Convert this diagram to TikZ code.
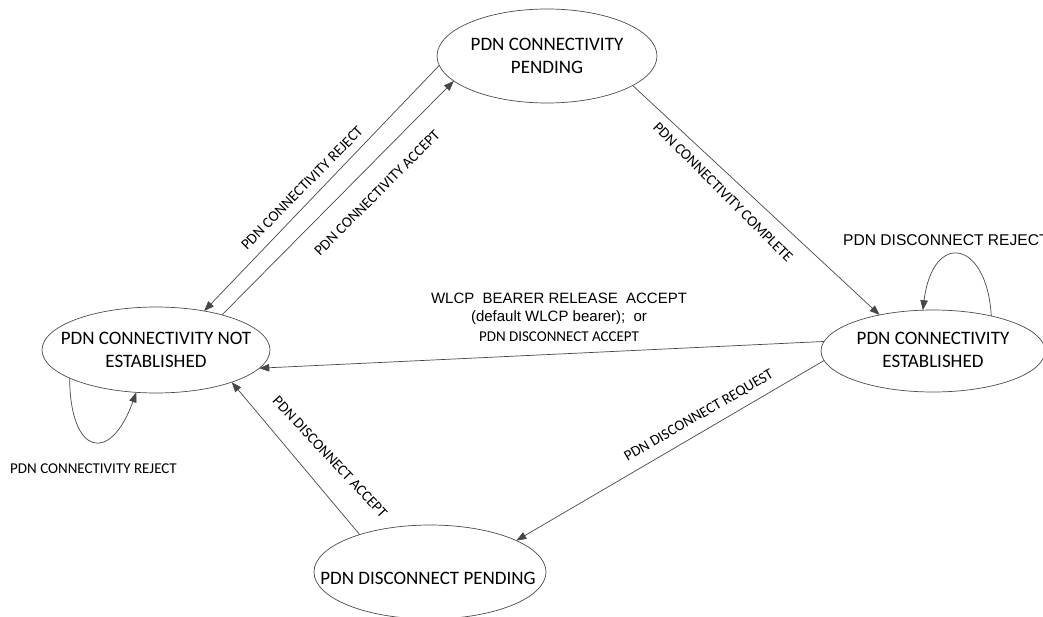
\documentclass[tikz,border=0pt]{standalone}
\usepackage{fontspec}
\setmainfont{Carlito}
\newfontfamily\arialf{Liberation Sans}
\usetikzlibrary{arrows.meta,shapes.geometric}
\begin{document}
\begin{tikzpicture}[x=1pt,y=-1pt,
  state/.style={draw=black!70,line width=0.7pt,ellipse,inner sep=0pt,outer sep=0pt},
  stext/.style={align=center,inner sep=0pt,font=\fontsize{19}{23}\selectfont},
  elab/.style={inner sep=0pt,font=\fontsize{15}{18}\selectfont},
  alab/.style={inner sep=0pt,font=\arialf\fontsize{15}{19}\selectfont},
  conn/.style={draw=black!72,line width=0.7pt,-{Triangle[length=10pt,width=7.5pt]}},
  plain/.style={draw=black!72,line width=0.7pt}]
\fill[white] (0,0) rectangle (1043,617);
\useasboundingbox (0,0) rectangle (1043,617);

% states
\node[state,minimum width=220pt,minimum height=94pt] (T) at (547,56) {};
\node[stext] (Tt) at (547,56) {PDN CONNECTIVITY\\PENDING};
\node[state,minimum width=228pt,minimum height=86pt] (L) at (156,350) {};
\node[stext] (Lt) at (156,350) {PDN CONNECTIVITY NOT\\ESTABLISHED};
\node[state,minimum width=224pt,minimum height=82pt] (R) at (933,351) {};
\node[stext] (Rt) at (933,350) {PDN CONNECTIVITY\\ESTABLISHED};
\node[state,minimum width=232pt,minimum height=94pt] (B) at (430,572) {};
\node[stext] (Bt) at (428,578) {PDN DISCONNECT PENDING};

% connectors
\draw[conn] (T.185) -- (L.39.2);
\draw[conn] (L.28.2) -- (T.195.1);
\draw[conn] (T.341.8) -- (R.146.8);
\draw[conn] (R.175.9) -- (L.350);
\draw[conn] (R.185.7) -- (B.20.6);
\draw[conn] (B.152.8) -- (L.337.2);
\draw[conn] (R.31.4) .. controls (987,240) and (933,230) .. (R.104.7);
\draw[conn] (L.198.4) .. controls (70,455) and (110,465) .. (L.245.7);

% labels
\node[elab,rotate=45.5] (l1) at (302,188) {PDN CONNECTIVITY REJECT};
\node[elab,rotate=45] (l2) at (377,193) {PDN CONNECTIVITY ACCEPT};
\node[elab,rotate=-45] (l3) at (723,192) {PDN CONNECTIVITY COMPLETE};
\node[elab,rotate=-47] (l4) at (330,457) {PDN DISCONNECT ACCEPT};
\node[elab,rotate=30] (l5) at (699,416) {PDN DISCONNECT REQUEST};
\node[elab,anchor=west] (l6) at (10,469) {PDN CONNECTIVITY REJECT};
\node[alab,anchor=west,font=\arialf\fontsize{15.6}{19}\selectfont] (l7) at (843,240) {PDN DISCONNECT REJECT};
\node[alab] (l8a) at (559,298) {WLCP\ \ BEARER RELEASE\ \ ACCEPT};
\node[alab] (l8b) at (559,318) {(default WLCP bearer);\ \ or};
\node[elab] (l8c) at (559,337) {PDN DISCONNECT ACCEPT};
\end{tikzpicture}
\end{document}
